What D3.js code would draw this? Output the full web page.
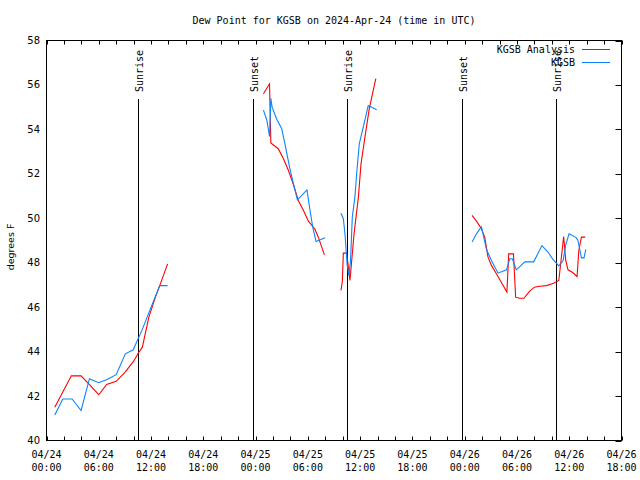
<!DOCTYPE html>
<html><head><meta charset="utf-8">
<script src="https://cdn.jsdelivr.net/npm/d3@7"></script>
<style>body{margin:0;background:#fff}svg{display:block}</style>
</head><body>
<svg id="c" width="640" height="480"></svg>
<script>
// hours since 2024-04-24 00:00 UTC ; null = gap
const redTime = [0.95,2.85,3.97,4.85,6.0,6.9,8.0,9.0,10.0,10.6,11.0,11.75,12.5,13.0,13.9,null,
  24.9,25.6,25.75,26.6,27.2,27.77,28.34,28.9,29.5,30.06,30.8,31.2,31.9,null,
  33.8,33.96,34.07,34.46,34.83,35.0,35.3,35.8,36.1,36.55,37.05,37.8,null,
  48.85,49.35,49.92,50.3,50.68,51.07,51.64,52.2,52.85,53.05,53.6,53.85,54.3,54.8,55.46,56.0,56.6,57.4,58.2,58.8,59.06,59.36,59.6,59.86,60.35,60.9,61.1,61.4,61.84];
const redDew = [41.5,42.91,42.91,42.55,42.06,42.52,42.66,43.07,43.57,43.97,44.2,45.55,46.45,46.97,47.95,null,
  55.6,56.05,53.39,53.13,52.68,52.15,51.52,50.8,50.35,49.87,49.52,49.15,48.35,null,
  46.75,47.17,48.43,48.43,47.2,47.95,49.3,50.95,52.45,53.65,54.93,56.28,null,
  50.13,49.87,49.53,49.15,48.25,47.88,47.5,47.12,46.68,48.4,48.4,46.45,46.4,46.4,46.72,46.9,46.94,46.97,47.08,47.2,48.1,49.18,48.1,47.68,47.57,47.38,48.55,49.15,49.15];
const blueTime = [0.95,1.87,2.94,3.97,4.93,6.0,6.95,8.0,9.05,9.95,11.0,12.0,13.0,13.9,null,
  24.9,25.3,25.6,25.75,25.9,26.4,27.0,27.4,27.9,28.3,28.8,29.9,30.25,30.56,30.94,31.97,null,
  33.8,34.07,34.26,34.37,34.5,34.7,34.9,35.1,35.4,35.6,35.9,36.36,36.93,37.9,null,
  48.85,49.35,49.92,50.5,51.07,51.83,52.8,53.17,53.47,53.93,54.9,55.92,56.87,57.56,58.13,58.8,59.3,59.6,59.98,60.8,61.0,61.4,61.7,61.9];
const blueDew = [41.15,41.87,41.87,41.35,42.78,42.6,42.75,42.96,43.9,44.08,45.0,46.0,46.97,46.97,null,
  54.87,54.4,53.68,55.4,55.0,54.48,54.03,53.28,52.3,51.63,50.83,51.28,50.35,49.6,48.96,49.12,null,
  50.23,49.98,49.3,48.7,47.95,47.43,48.1,50.05,50.95,52.0,53.35,54.1,55.07,54.88,null,
  48.93,49.3,49.62,48.6,48.1,47.53,47.68,48.18,48.18,47.68,48.04,48.04,48.77,48.48,48.15,47.86,48.1,48.8,49.3,49.13,49.0,48.22,48.22,48.6];
const sunTime = [10.55,23.72,34.5,47.67,58.43];
const sunLabel = ["Sunrise","Sunset","Sunrise","Sunset","Sunrise"];
const yTicks = [40,42,44,46,48,50,52,54,56,58];
const seriesNames = ["KGSB Analysis","KGSB"];
const seriesColors = ["#ff0000","#0a84ff"];
const titleText = "Dew Point for KGSB on 2024-Apr-24 (time in UTC)";
const yTitle = "degrees F";

const t0 = Date.UTC(2024,3,24,0,0);
const toDate = h => new Date(t0 + h*3600e3);
const svg = d3.select("#c");
const L=46.5,R=621.5,T=40.5,B=440.5;
const x = d3.scaleUtc().domain([toDate(0),toDate(66)]).range([L,R]);
const y = d3.scaleLinear().domain([40,58]).range([B,T]);
const mono = "'DejaVu Sans Mono', monospace";

// title
svg.append("text").attr("x",(L+R)/2).attr("y",24).attr("text-anchor","middle")
  .attr("font-family",mono).attr("font-size",10).text(titleText);

// x ticks every 2h, labels every 6h
const xt = d3.utcHour.every(2).range(toDate(0), toDate(66.01));
svg.append("g").selectAll("line").data(xt).join("line")
  .attr("x1",d=>Math.round(x(d))+0.5).attr("x2",d=>Math.round(x(d))+0.5)
  .attr("y1",B).attr("y2",B-4).attr("stroke","#000");
svg.append("g").selectAll("line").data(xt).join("line")
  .attr("x1",d=>Math.round(x(d))+0.5).attr("x2",d=>Math.round(x(d))+0.5)
  .attr("y1",T).attr("y2",T+4).attr("stroke","#000");
const fmtD = d3.utcFormat("%m/%d"), fmtT = d3.utcFormat("%H:%M");
const xl = xt.filter(d=>d.getUTCHours()%6===0);
const lg = svg.append("g").attr("font-family",mono).attr("font-size",10).attr("text-anchor","middle");
xl.forEach(d=>{
  lg.append("text").attr("x",x(d)).attr("y",458).text(fmtD(d));
  lg.append("text").attr("x",x(d)).attr("y",471).text(fmtT(d));
});

// y ticks
const sans = "'DejaVu Sans', sans-serif";
svg.append("g").selectAll("text").data(yTicks).join("text")
  .attr("x",40).attr("y",d=>y(d)+3.5).attr("text-anchor","end")
  .attr("font-family",sans).attr("font-size",10).text(d=>d);
svg.append("g").selectAll("line").data(yTicks).join("line")
  .attr("x1",R).attr("x2",R-6).attr("y1",d=>Math.round(y(d))+0.5).attr("y2",d=>Math.round(y(d))+0.5)
  .attr("stroke","#000");
svg.append("text").attr("transform","translate(14,247) rotate(-90)").attr("text-anchor","middle")
  .attr("font-family",sans).attr("font-size",9.5).text(yTitle);

// sun lines
sunTime.forEach((h,i)=>{
  const sx = Math.round(x(toDate(h)))+0.5;
  svg.append("line").attr("x1",sx).attr("x2",sx).attr("y1",99).attr("y2",B).attr("stroke","#000");
  svg.append("text").attr("transform",`translate(${sx+4.5},92) rotate(-90)`)
    .attr("font-family",mono).attr("font-size",10).text(sunLabel[i]);
});

// series
const mk = (ts,vs)=>ts.map((t,i)=>({t,v:vs[i]}));
const line = d3.line().defined(d=>d.t!==null && d.v!==null).x(d=>x(toDate(d.t))).y(d=>y(d.v));
svg.append("path").datum(mk(redTime,redDew)).attr("d",line).attr("fill","none")
  .attr("stroke",seriesColors[0]).attr("stroke-width",1.1);
svg.append("path").datum(mk(blueTime,blueDew)).attr("d",line).attr("fill","none")
  .attr("stroke",seriesColors[1]).attr("stroke-width",1.1);

// border
svg.append("rect").attr("x",L).attr("y",T).attr("width",R-L).attr("height",B-T)
  .attr("fill","none").attr("stroke","#000");

// legend
seriesNames.forEach((n,i)=>{
  const ly = 49.5 + i*13;
  svg.append("text").attr("x",575).attr("y",ly+3.5).attr("text-anchor","end")
    .attr("font-family",mono).attr("font-size",10).text(n);
  svg.append("line").attr("x1",582).attr("x2",610).attr("y1",ly).attr("y2",ly)
    .attr("stroke",seriesColors[i]);
});
</script>
</body></html>
